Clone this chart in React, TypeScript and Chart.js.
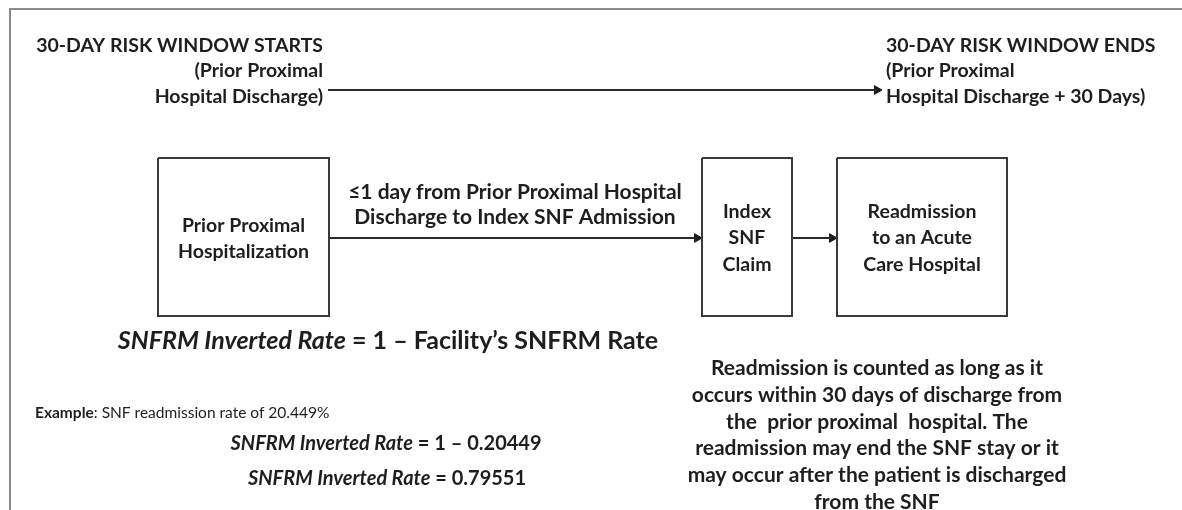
import React, { useEffect, useRef } from "react";
import { Chart, registerables } from "chart.js";

Chart.register(...registerables);

// ---------- content ----------
const startLines = ["30-DAY RISK WINDOW STARTS", "(Prior Proximal", "Hospital Discharge)"];
const endLines = ["30-DAY RISK WINDOW ENDS", "(Prior Proximal", "Hospital Discharge + 30 Days)"];
const boxLines = [
  ["Prior Proximal", "Hospitalization"],
  ["Index", "SNF", "Claim"],
  ["Readmission", "to an Acute", "Care Hospital"],
];
const linkLines = ["\u22641 day from Prior Proximal Hospital", "Discharge to Index SNF Admission"];
const noteLines = [
  "Readmission is counted as long as it",
  "occurs within 30 days of discharge from",
  "the  prior proximal  hospital. The",
  "readmission may end the SNF stay or it",
  "may occur after the patient is discharged",
  "from the SNF",
];
const formulaTerm = "SNFRM Inverted Rate";
const formulaRhs = [" = 1 \u2013 Facility\u2019s SNFRM Rate", " = 1 \u2013 0.20449", " = 0.79551"];
const exampleLabel = "Example";
const exampleText = ": SNF readmission rate of 20.449%";

// ---------- layout (diagram units, 1 unit = 1 px) ----------
const canvasW = 1182;
const canvasH = 510;
const frameX = 10;
const frameY = 9;
const boxLeft = [158, 702, 837];
const boxRight = [329, 792, 1007];
const boxTop = 158;
const boxBottom = 316;
const flowY = 238;
const windowY = 90;
const windowFrom = 328;
const windowTo = 882;
const headerY = [46, 71, 97];
const boxLineY = [[226, 252], [212, 238, 265], [212, 238, 265]];
const linkY = [192, 217];
const linkX = 515;
const noteX = 877;
const noteY = [368, 395, 422, 448, 475, 502];
const formulaX = [388, 386, 387];
const formulaY = [341, 444, 479];
const formulaSize = [25, 20, 20];
const exampleX = 35;
const exampleY = 413;

const FONT = "Lato, 'Open Sans', sans-serif";
const INK = "#1e1e1e";
const HEAD = 5;

type Run = { t: string; w?: string; i?: boolean };
type TextItem = { x: number; y: number; align: "left" | "right" | "center"; size: number; runs: Run[] };

const textItems: TextItem[] = [];
startLines.forEach((t, k) => textItems.push({ x: 323, y: headerY[k], align: "right", size: 19.5, runs: [{ t }] }));
endLines.forEach((t, k) => textItems.push({ x: 886, y: headerY[k], align: "left", size: 19.5, runs: [{ t }] }));
boxLines.forEach((lines, b) =>
  lines.forEach((t, k) =>
    textItems.push({ x: (boxLeft[b] + boxRight[b]) / 2, y: boxLineY[b][k], align: "center", size: 19.5, runs: [{ t }] })
  )
);
linkLines.forEach((t, k) => textItems.push({ x: linkX, y: linkY[k], align: "center", size: 21, runs: [{ t }] }));
noteLines.forEach((t, k) => textItems.push({ x: noteX, y: noteY[k], align: "center", size: 21, runs: [{ t }] }));
formulaRhs.forEach((t, k) =>
  textItems.push({
    x: formulaX[k],
    y: formulaY[k],
    align: "center",
    size: formulaSize[k],
    runs: [{ t: formulaTerm, i: true }, { t }],
  })
);
textItems.push({
  x: exampleX,
  y: exampleY,
  align: "left",
  size: 15.5,
  runs: [{ t: exampleLabel }, { t: exampleText, w: "normal" }],
});

const textPlugin = {
  id: "diagramText",
  afterDatasetsDraw(chart: any) {
    const { ctx, scales } = chart;
    const xs = scales.x;
    const ys = scales.y;
    ctx.save();
    ctx.fillStyle = INK;
    ctx.textBaseline = "middle";
    ctx.textAlign = "left";
    textItems.forEach((item) => {
      const fonts = item.runs.map((r) => `${r.i ? "italic " : ""}${r.w || "bold"} ${item.size}px ${FONT}`);
      const widths = item.runs.map((r, k) => {
        ctx.font = fonts[k];
        return ctx.measureText(r.t).width;
      });
      const total = widths.reduce((a, b) => a + b, 0);
      let px = xs.getPixelForValue(item.x);
      if (item.align === "center") px -= total / 2;
      else if (item.align === "right") px -= total;
      const py = ys.getPixelForValue(item.y);
      item.runs.forEach((r, k) => {
        ctx.font = fonts[k];
        ctx.fillText(r.t, px, py);
        px += widths[k];
      });
    });
    ctx.restore();
  },
};

function lineSet(points: { x: number; y: number }[], color: string, width: number) {
  return {
    type: "scatter" as const,
    data: points,
    showLine: true,
    borderColor: color,
    borderWidth: width,
    pointRadius: 0,
    fill: false,
    tension: 0,
    clip: false as any,
  };
}

export default function App() {
  const ref = useRef<HTMLCanvasElement | null>(null);
  useEffect(() => {
    if (!ref.current) return;
    const arrows = [
      { x0: windowFrom, x1: windowTo, y: windowY },
      { x0: boxRight[0], x1: boxLeft[1], y: flowY },
      { x0: boxRight[1], x1: boxLeft[2], y: flowY },
    ];
    const datasets: any[] = [];
    datasets.push(
      lineSet(
        [
          { x: frameX, y: canvasH },
          { x: frameX, y: frameY },
          { x: canvasW, y: frameY },
        ],
        "#8a8a8a",
        2
      )
    );
    boxLeft.forEach((l, b) => {
      const r = boxRight[b];
      datasets.push(
        lineSet(
          [
            { x: l, y: boxTop },
            { x: r, y: boxTop },
            { x: r, y: boxBottom },
            { x: l, y: boxBottom },
            { x: l, y: boxTop },
          ],
          "#3a3a3a",
          2
        )
      );
    });
    arrows.forEach((a) => {
      datasets.push(
        lineSet(
          [
            { x: a.x0, y: a.y },
            { x: a.x1 - HEAD, y: a.y },
          ],
          "#2a2a2a",
          2
        )
      );
    });
    datasets.push({
      type: "scatter",
      data: arrows.map((a) => ({ x: a.x1 - HEAD, y: a.y })),
      pointStyle: "triangle",
      rotation: 90,
      pointRadius: HEAD,
      backgroundColor: "#1a1a1a",
      borderColor: "#1a1a1a",
      borderWidth: 1,
      clip: false,
    });
    const chart = new Chart(ref.current, {
      type: "scatter",
      data: { datasets },
      plugins: [textPlugin],
      options: {
        responsive: false,
        maintainAspectRatio: false,
        animation: false,
        events: [],
        layout: { padding: 0, autoPadding: false },
        plugins: { legend: { display: false }, tooltip: { enabled: false } },
        scales: {
          x: { type: "linear", min: 0, max: canvasW, display: false },
          y: { type: "linear", min: 0, max: canvasH, reverse: true, display: false },
        },
      },
    });
    return () => chart.destroy();
  }, []);
  return (
    <div style={{ position: "absolute", left: 0, top: 0, width: canvasW, height: canvasH, background: "#fff" }}>
      <canvas ref={ref} width={canvasW} height={canvasH} style={{ display: "block" }} />
    </div>
  );
}
